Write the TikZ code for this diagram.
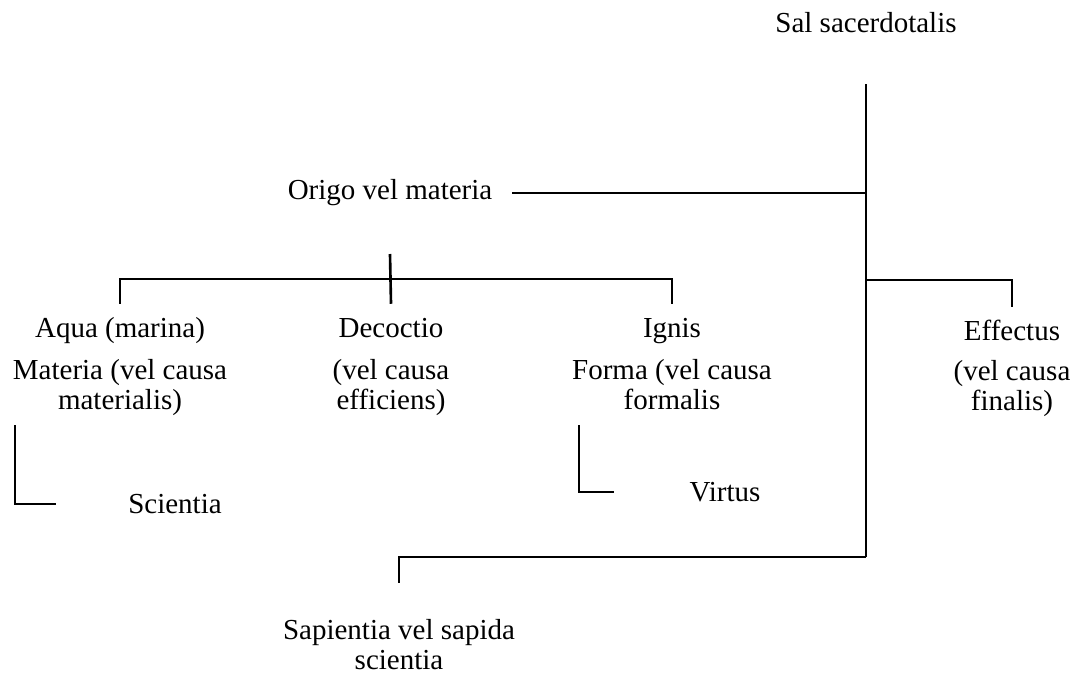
\documentclass[tikz,border=0pt]{standalone}
\usepackage{fontspec}
\setmainfont{Liberation Serif}
\usetikzlibrary{calc}

\begin{document}
\begin{tikzpicture}[x=0.02cm, y=-0.02cm,
    every node/.style={font=\fontsize{16.5}{17}\selectfont, align=center},
    title/.style={text height=15.4pt, text depth=4pt},
    cause/.style={anchor=north},
    link/.style={line width=1.5pt}]
    \useasboundingbox (0,0) rectangle (1078,673);
    % Points on the main stem
    \coordinate (top) at (866,84);
    \coordinate (j1) at (866,193);
    \coordinate (j2) at (866,280);
    \coordinate (bot) at (866,557);
    % Top and origin
    \node[anchor=base] (sal) at (866,32) {Sal sacerdotalis};
    \node (origo) at (390,193) {Origo vel materia};
    \coordinate (o1) at (390,254);
    \coordinate (fork) at (390,279);
    % The three causes under the origin
    \node[title] (aqua) at (120,327) {Aqua (marina)};
    \node[title] (decoctio) at (391,327) {Decoctio};
    \node[title] (ignis) at (672,327) {Ignis};
    \node[cause] (materia) at (120,353) {Materia (vel causa\\materialis)};
    \node[cause] (efficiens) at (391,353) {(vel causa\\efficiens)};
    \node[cause] (formalis) at (672,353) {Forma (vel causa\\formalis};
    % Final cause
    \node[title] (effectus) at (1012,330) {Effectus};
    \node[cause] (finalis) at (1012,354) {(vel causa\\finalis)};
    % Lower names
    \coordinate (sc) at (15,425);
    \coordinate (vi) at (579,425);
    \node (scientia) at (175,504) {Scientia};
    \node (virtus) at (725,492) {Virtus};
    \node[anchor=north] (sapientia) at (399,613) {Sapientia vel sapida\\scientia};

    % Lines
    \draw[link] (top) -- (bot);
    \draw[link, shorten <=0.28cm] (origo) -- (j1);
    \draw[link] (o1) -- (decoctio.north);
    \draw[link] (aqua.north) |- (fork) -| (ignis.north);
    \draw[link] (j2) -| (effectus.north);
    \draw[link, shorten >=1.32cm] (sc) |- (scientia);
    \draw[link, shorten >=1.38cm] (vi) |- (virtus);
    \draw[link, shorten >=0.6cm] (bot) -| (sapientia.north);
\end{tikzpicture}
\end{document}
